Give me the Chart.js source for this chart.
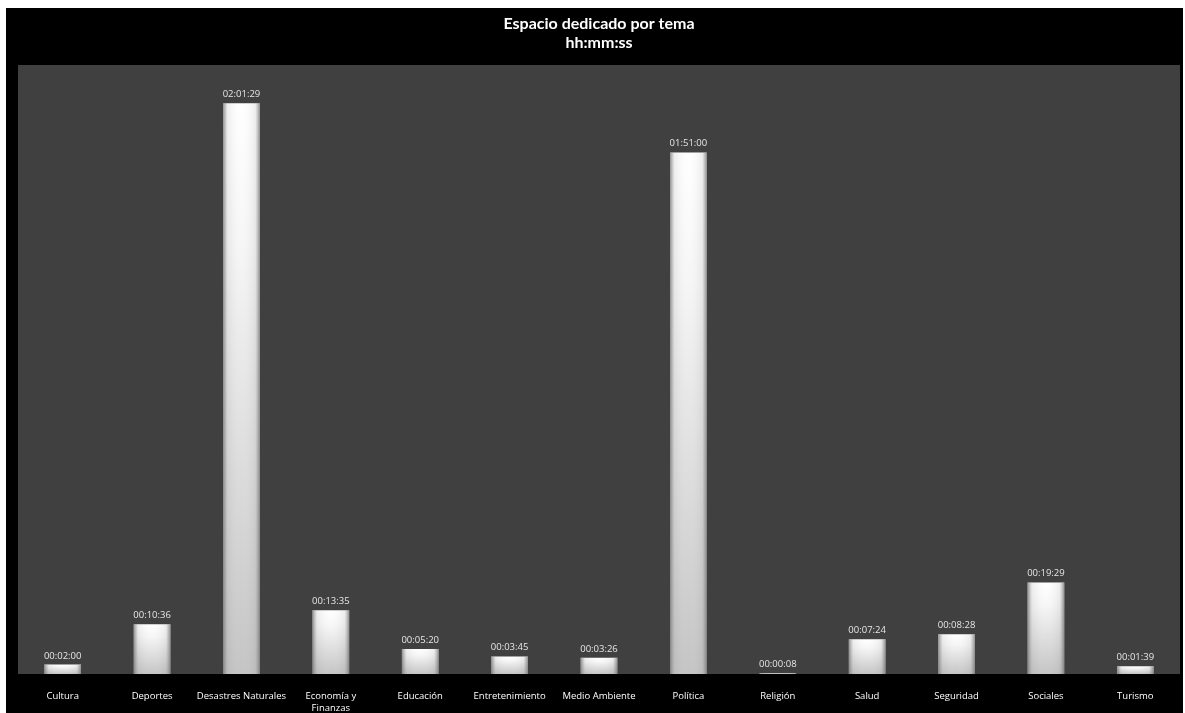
<!DOCTYPE html>
<html lang="es">
<head>
<meta charset="utf-8">
<title>Espacio dedicado por tema</title>
<script src="https://cdn.jsdelivr.net/npm/chart.js@4"></script>
<style>
  html, body { margin: 0; padding: 0; background: #ffffff; }
  .chart-box {
    position: absolute;
    left: 6px;
    top: 8px;
    width: 1177px;
    height: 705px;
    background: #000000;
  }
</style>
</head>
<body>
<div class="chart-box">
  <canvas id="temaChart" width="1177" height="705"></canvas>
</div>
<script>
// Categorias (temas)
const temas = [
  "Cultura", "Deportes", "Desastres Naturales", ["Economía y", "Finanzas"],
  "Educación", "Entretenimiento", "Medio Ambiente", "Política",
  "Religión", "Salud", "Seguridad", "Sociales", "Turismo"
];

// Duracion por tema en hh:mm:ss
const duraciones = [
  "00:02:00", "00:10:36", "02:01:29", "00:13:35",
  "00:05:20", "00:03:45", "00:03:26", "01:51:00",
  "00:00:08", "00:07:24", "00:08:28", "00:19:29", "00:01:39"
];

// Eje vertical (segundos), oculto
const ejeMaxSegundos = 7776;

function toSeconds(hms) {
  const [h, m, s] = hms.split(":").map(Number);
  return h * 3600 + m * 60 + s;
}

function toHms(sec) {
  const pad = (n) => String(n).padStart(2, "0");
  const h = Math.floor(sec / 3600);
  const m = Math.floor((sec % 3600) / 60);
  const s = sec % 60;
  return pad(h) + ":" + pad(m) + ":" + pad(s);
}

const segundos = duraciones.map(toSeconds);

/**
 * Fondo negro del lienzo y area de trazado gris
 */
const fondoPlugin = {
  id: "fondo",
  beforeDraw(chart) {
    const { ctx, chartArea } = chart;
    ctx.save();
    ctx.fillStyle = "#000000";
    ctx.fillRect(0, 0, chart.width, chart.height);
    ctx.fillStyle = "#404040";
    ctx.fillRect(chartArea.left, chartArea.top,
      chartArea.right - chartArea.left, chartArea.bottom - chartArea.top);
    ctx.restore();
  },
};

/**
 * Sombreado lateral de las barras y etiquetas de valor
 */
const barrasPlugin = {
  id: "barras",
  afterDatasetsDraw(chart) {
    const { ctx } = chart;
    const meta = chart.getDatasetMeta(0);
    ctx.save();
    meta.data.forEach((bar, i) => {
      const { x, y, base, width } = bar.getProps(["x", "y", "base", "width"], true);
      const left = x - width / 2;
      const grad = ctx.createLinearGradient(left, 0, left + width, 0);
      grad.addColorStop(0, "rgba(110,110,110,0.75)");
      grad.addColorStop(0.12, "rgba(140,140,140,0.15)");
      grad.addColorStop(0.5, "rgba(255,255,255,0)");
      grad.addColorStop(0.88, "rgba(140,140,140,0.15)");
      grad.addColorStop(1, "rgba(110,110,110,0.75)");
      ctx.fillStyle = grad;
      ctx.fillRect(left, y, width, base - y);

      ctx.fillStyle = "#e6e6e6";
      ctx.font = "9.5px 'Open Sans', sans-serif";
      ctx.textAlign = "center";
      ctx.textBaseline = "bottom";
      ctx.fillText(toHms(segundos[i]), x, y - 4);
    });
    ctx.restore();
  },
};

function barGradient(context) {
  const chart = context.chart;
  const yScale = chart.scales.y;
  if (!yScale) return "#ffffff";
  const top = yScale.getPixelForValue(segundos[context.dataIndex]);
  const bottom = yScale.getPixelForValue(0);
  if (!isFinite(top) || !isFinite(bottom) || bottom - top < 1) return "#e8e8e8";
  const grad = chart.ctx.createLinearGradient(0, top, 0, bottom);
  grad.addColorStop(0, "#ffffff");
  grad.addColorStop(0.25, "#f6f6f6");
  grad.addColorStop(1, "#c4c4c4");
  return grad;
}

new Chart(document.getElementById("temaChart"), {
  type: "bar",
  data: {
    labels: temas,
    datasets: [
      {
        label: "hh:mm:ss",
        data: segundos,
        backgroundColor: barGradient,
        borderWidth: 0,
        categoryPercentage: 1,
        barPercentage: 0.41,
      },
    ],
  },
  options: {
    responsive: false,
    animation: false,
    layout: {
      padding: { left: 12, right: 3, top: 0, bottom: 0 },
    },
    plugins: {
      legend: { display: false },
      tooltip: { enabled: false },
      title: {
        display: true,
        text: ["Espacio dedicado por tema", "hh:mm:ss"],
        color: "#ffffff",
        font: { family: "Lato", size: 16, weight: "bold", lineHeight: 1.15 },
        padding: { top: 6.8, bottom: 13.4 },
      },
    },
    scales: {
      y: {
        display: false,
        min: 0,
        max: ejeMaxSegundos,
      },
      x: {
        grid: { display: false },
        border: { display: false },
        ticks: {
          color: "#ffffff",
          padding: 8,
          maxRotation: 0,
          autoSkip: false,
          font: { family: "'Open Sans'", size: 9.5, lineHeight: 1.25 },
        },
        afterFit(scale) {
          scale.height = 39;
        },
      },
    },
  },
  plugins: [fondoPlugin, barrasPlugin],
});
</script>
</body>
</html>
